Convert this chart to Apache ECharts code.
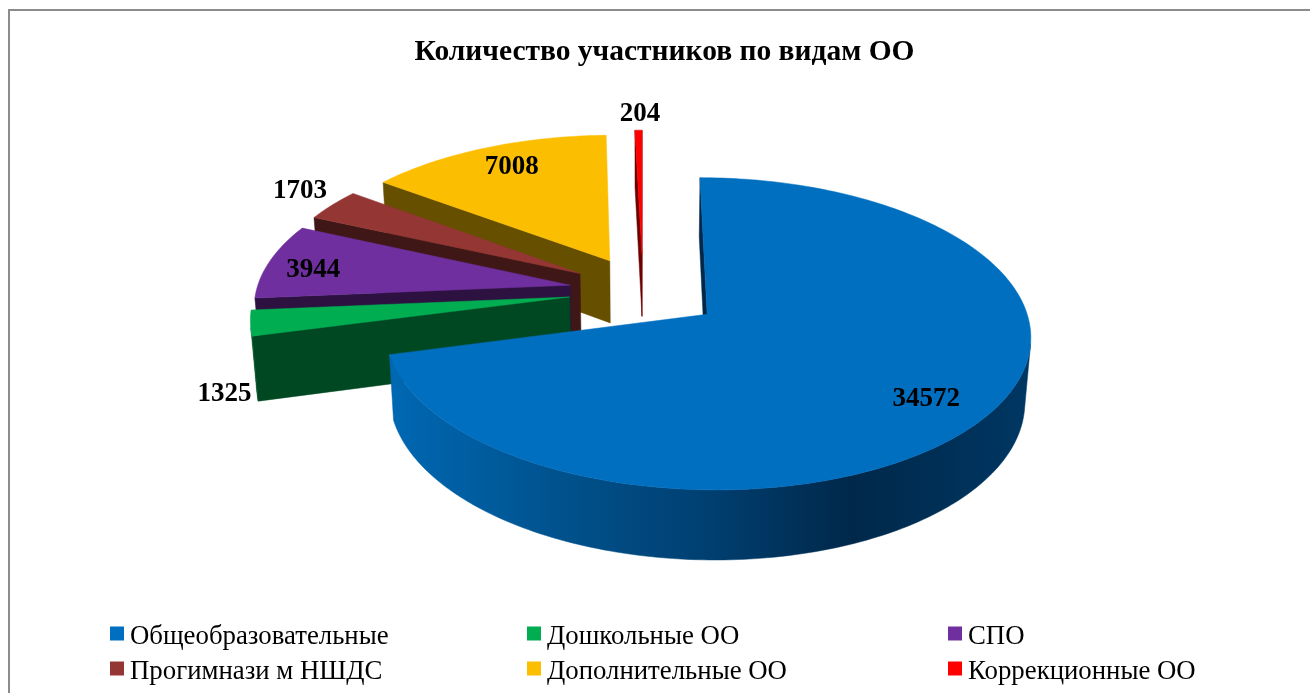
<!DOCTYPE html>
<html lang="ru">
<head>
<meta charset="UTF-8">
<title>Количество участников по видам ОО</title>
<script src="https://cdn.jsdelivr.net/npm/echarts@6/dist/echarts.min.js"></script>
<style>
  html, body { margin: 0; padding: 0; background: #fff; }
  #main { width: 1310px; height: 693px; }
</style>
</head>
<body>
<div id="main"></div>
<script type="text/javascript">
  // данные диаграммы
  var categories = ['Общеобразовательные', 'Дошкольные ОО', 'СПО', 'Прогимнази м НШДС', 'Дополнительные ОО', 'Коррекционные ОО'];
  var values = [34572, 1325, 3944, 1703, 7008, 204];

  // оформление
  var topColors = ['#006fc0', '#00ad50', '#6f2f9f', '#933634', '#fcbe00', '#ff0000'];
  var faceColors = ['#00284a', '#004822', '#2d1241', '#3e1716', '#674f00', '#6e0000'];
  var wallStops = [
    [[0, '#0068b3'], [0.25, '#00538f'], [0.5, '#003f70'], [0.72, '#00284a'], [1, '#003763']],
    [[0, '#006a30'], [1, '#004822']],
    [[0, '#3d1a58'], [1, '#2d1241']],
    [[0, '#5a2221'], [1, '#3e1716']],
    [[0, '#8a6a00'], [1, '#674f00']],
    [[0, '#8a0000'], [1, '#6e0000']]
  ];
  var labelShift = [[219, 85], [-345, 97], [-257, -15], [-280, -83], [-98, -94], [-2, -140]];
  var explode = [0.253, 0.236, 0.236, 0.236, 0.236, 0.255];

  // параметры 3D проекции
  var cx = 643, cy = 291, f = 314, sinT = 0.471, cosT = 0.882, persp = 0.139;
  var depth = 0.232;

  var total = values.reduce(function (a, b) { return a + b; }, 0);
  var slices = [];
  var acc = 0;
  values.forEach(function (v) {
    var a0 = acc / total * Math.PI * 2;
    acc += v;
    slices.push({ a0: a0, a1: acc / total * Math.PI * 2 });
  });

  function project(x, y, z) {
    var up = y * sinT + z * cosT;
    var far = y * cosT - z * sinT;
    var d = 1 + far * persp;
    return [cx + f * x / d, cy - f * up / d];
  }

  function area(pts) {
    var sum = 0;
    for (var i = 0; i < pts.length; i++) {
      var p = pts[i], q = pts[(i + 1) % pts.length];
      sum += p[0] * q[1] - q[0] * p[1];
    }
    return sum;
  }

  function sliceItem(idx) {
    return function () {
      var s = slices[idx];
      var mid = (s.a0 + s.a1) / 2;
      var ox = Math.sin(mid) * explode[idx];
      var oy = Math.cos(mid) * explode[idx];
      var top = [], bottom = [];
      var steps = Math.max(3, Math.ceil((s.a1 - s.a0) / 0.02));
      for (var i = 0; i <= steps; i++) {
        var a = s.a0 + (s.a1 - s.a0) * i / steps;
        top.push(project(ox + Math.sin(a), oy + Math.cos(a), 0));
        bottom.push(project(ox + Math.sin(a), oy + Math.cos(a), -depth));
      }
      var apexTop = project(ox, oy, 0);
      var apexBottom = project(ox, oy, -depth);
      var children = [];

      function poly(points, fill) {
        children.push({
          type: 'polygon',
          shape: { points: points },
          style: { fill: fill, stroke: fill, lineWidth: 0.5 }
        });
      }

      // внешняя стенка: только та часть дуги, что видна зрителю
      var from = -1, to = -1;
      for (var j = 0; j < steps; j++) {
        if (area([top[j], top[j + 1], bottom[j + 1], bottom[j]]) < 0) {
          if (from < 0) from = j;
          to = j + 1;
        }
      }
      if (from >= 0) {
        poly(top.slice(from, to + 1).concat(bottom.slice(from, to + 1).reverse()), new echarts.graphic.LinearGradient(0, 0, 1, 0,
          wallStops[idx].map(function (st) { return { offset: st[0], color: st[1] }; })));
      }

      // радиальные грани: рисуем только те, что смотрят на зрителя
      var first = [apexTop, top[0], bottom[0], apexBottom];
      var last = [top[steps], apexTop, apexBottom, bottom[steps]];
      if (area(first) < 0) poly(first, faceColors[idx]);
      if (area(last) < 0) poly(last, faceColors[idx]);

      // верхняя грань
      poly([apexTop].concat(top), topColors[idx]);

      children.push({
        type: 'text',
        style: {
          text: String(values[idx]),
          x: apexTop[0] + labelShift[idx][0],
          y: apexTop[1] + labelShift[idx][1],
          align: 'center',
          verticalAlign: 'middle',
          font: 'bold 27px "Liberation Serif", "Times New Roman", serif',
          fill: '#000'
        }
      });
      return { type: 'group', children: children };
    };
  }

  // дальние сектора рисуем раньше ближних
  var paintOrder = slices.map(function (s, i) {
    return { i: i, far: Math.cos((s.a0 + s.a1) / 2) };
  }).sort(function (a, b) { return b.far - a.far; }).map(function (o) { return o.i; });

  var series = categories.map(function (name, i) {
    return {
      type: 'custom',
      name: name,
      coordinateSystem: 'none',
      silent: true,
      animation: false,
      z: 2 + paintOrder.indexOf(i),
      itemStyle: { color: topColors[i] },
      renderItem: sliceItem(i),
      data: [[values[i]]]
    };
  });

  function legendColumn(left, names) {
    return {
      left: left,
      top: 622,
      padding: 0,
      orient: 'vertical',
      data: names,
      // квадрат в верхней части рамки 14x20: в оригинале он чуть выше текста
      icon: 'path://M0,0L14,0L14,14L0,14ZM0,20L0,20',
      itemWidth: 14,
      itemHeight: 20,
      itemGap: 6,
      selectedMode: false,
      textStyle: {
        fontFamily: '"Liberation Serif", "Times New Roman", serif',
        fontSize: 26.8,
        color: '#000',
        lineHeight: 29,
        padding: [0, 0, 0, 1]
      }
    };
  }

  var myChart = echarts.init(document.getElementById('main'));
  myChart.setOption({
    backgroundColor: '#fff',
    animation: false,
    title: {
      text: 'Количество участников по видам ОО',
      left: 659.5,
      top: 32,
      textAlign: 'center',
      textStyle: { fontFamily: '"Liberation Serif", "Times New Roman", serif', fontSize: 29.5, fontWeight: 'bold', color: '#000' }
    },
    legend: [
      legendColumn(110, [categories[0], categories[3]]),
      legendColumn(527, [categories[1], categories[4]]),
      legendColumn(948, [categories[2], categories[5]])
    ],
    graphic: [{
      type: 'rect',
      silent: true,
      shape: { x: 9, y: 10, width: 1320, height: 700 },
      style: { fill: 'none', stroke: '#8c8c8c', lineWidth: 2 }
    }],
    series: series
  });
</script>
</body>
</html>
